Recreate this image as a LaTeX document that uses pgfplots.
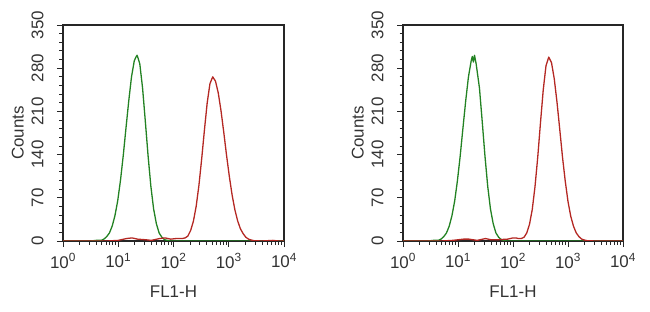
\documentclass[border=0pt]{standalone}
\usepackage{pgfplots}
\pgfplotsset{compat=1.18}
\usepackage{fontspec}
\setmainfont{Liberation Sans}
\definecolor{hgreen}{RGB}{35,130,35}
\definecolor{hred}{RGB}{180,40,35}
\pgfplotsset{
  flowax/.style={
    scale only axis, width=221bp, height=216bp,
    xmin=0, xmax=4, ymin=0, ymax=350,
    axis line style={line width=1.3bp, black!85},
    xtick={0,1,2,3,4},
    xticklabels={10\textsuperscript{0},10\textsuperscript{1},10\textsuperscript{2},10\textsuperscript{3},10\textsuperscript{4}},
    minor xtick={0.301,0.477,0.602,0.699,0.778,0.845,0.903,0.954,
                 1.301,1.477,1.602,1.699,1.778,1.845,1.903,1.954,
                 2.301,2.477,2.602,2.699,2.778,2.845,2.903,2.954,
                 3.301,3.477,3.602,3.699,3.778,3.845,3.903,3.954},
    ytick={0,70,140,210,280,350},
    minor y tick num=4,
    tick align=outside, tick pos=left,
    major tick length=6bp, minor tick length=3.5bp,
    every tick/.style={black!85, line width=0.9bp},
    /pgf/number format/assume math mode=true,
    xticklabel style={font=\fontsize{17}{17}\selectfont, text=black!80, yshift=-3bp},
    yticklabel style={font=\fontsize{17}{17}\selectfont, text=black!80, rotate=90, anchor=south, yshift=10bp},
    xlabel={FL1-H}, ylabel={Counts},
    every axis x label/.style={font=\fontsize{17}{17}\selectfont, text=black!80, at={(axis description cs:0.5,0)}, anchor=north, yshift=-41bp},
    every axis y label/.style={font=\fontsize{17}{17}\selectfont, text=black!80, at={(axis description cs:-0.205,0.5)}, rotate=90, anchor=center},
    every axis plot/.append style={line width=1.3bp, line join=round},
  }
}
\begin{document}
\begin{tikzpicture}
\path[use as bounding box] (0,0) rectangle (650bp,312bp);
% ---------- left panel ----------
\begin{axis}[flowax, at={(63bp,71bp)}, anchor=south west]
\addplot[hgreen] coordinates {
(0,0) (0.5,0) (0.60,1) (0.69,1) (0.74,3) (0.79,7) (0.84,13) (0.89,24) (0.94,41)
(0.99,65) (1.04,98) (1.09,138) (1.14,183) (1.19,227) (1.24,266) (1.29,292)
(1.32,298) (1.34,301) (1.36,296) (1.39,287) (1.44,248) (1.49,194) (1.54,138)
(1.59,89) (1.64,52) (1.69,28) (1.74,13) (1.79,6) (1.84,2) (1.89,1) (1.94,0) (4,0)};
\addplot[hred] coordinates {
(0,0) (0.8,0) (1.0,1) (1.15,4) (1.25,5) (1.35,3) (1.5,2) (1.6,1) (1.75,4) (1.85,5)
(1.95,3) (2.05,4) (2.12,4) (2.16,4) (2.21,5) (2.26,8) (2.31,17) (2.36,32) (2.41,56)
(2.46,90) (2.51,133) (2.56,180) (2.61,224) (2.66,255) (2.71,266) (2.76,259)
(2.81,240) (2.86,211) (2.91,176) (2.96,139) (3.01,105) (3.06,75) (3.11,51)
(3.16,33) (3.21,20) (3.26,12) (3.31,6) (3.36,3) (3.41,1.5) (3.46,0.5) (3.6,0)
(3.8,1) (3.9,0) (4,0)};
\end{axis}
% ---------- right panel ----------
\begin{axis}[flowax, width=220bp, at={(403bp,71bp)}, anchor=south west]
\addplot[hgreen] coordinates {
(0,0) (0.45,0) (0.55,1) (0.64,1) (0.69,3) (0.74,7) (0.79,13) (0.84,24) (0.89,41)
(0.94,65) (0.99,98) (1.04,138) (1.09,183) (1.14,227) (1.19,266) (1.24,292)
(1.26,299) (1.28,290) (1.30,301) (1.33,287) (1.39,248) (1.44,194) (1.49,138)
(1.54,89) (1.59,52) (1.64,28) (1.69,13) (1.74,6) (1.79,2) (1.84,1) (1.89,0) (4,0)};
\addplot[hred] coordinates {
(0,0) (0.7,0) (0.9,1) (1.1,3) (1.2,3) (1.35,1) (1.5,4) (1.6,2) (1.7,2) (1.9,3)
(2.0,5) (2.05,5) (2.1,4) (2.15,4) (2.20,6) (2.25,13) (2.30,27) (2.35,51) (2.40,88)
(2.45,136) (2.50,192) (2.55,245) (2.60,284) (2.65,298) (2.70,289) (2.75,263)
(2.80,225) (2.85,181) (2.90,136) (2.95,97) (3.00,64) (3.05,40) (3.10,24)
(3.15,13) (3.20,7) (3.25,3) (3.30,1.5) (3.35,0.5) (3.5,0) (4,0)};
\end{axis}
\end{tikzpicture}
\end{document}
